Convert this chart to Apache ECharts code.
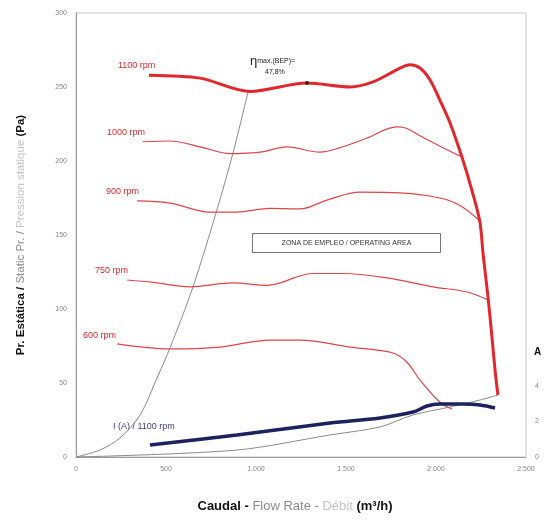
<!DOCTYPE html>
<html><head><meta charset="utf-8">
<script src="https://cdn.jsdelivr.net/npm/echarts@6/dist/echarts.min.js"></script>
<style>html,body{margin:0;padding:0;background:#fff}#c{width:548px;height:521px}</style>
</head><body><div id="c"></div>
<script>
// ---- data (flow m3/h, static pressure Pa) ----
var flow1100 = [405, 689, 967, 1283, 1522, 1650, 1800, 1856, 1911, 1967, 2022, 2078, 2144, 2200, 2244, 2261, 2289, 2311, 2328, 2344];
var pa1100   = [258, 256, 247, 252.7, 250, 253.4, 262.8, 265, 262.8, 254.7, 241, 225.7, 202.7, 180, 158.8, 137.8, 108, 81, 58.8, 41.9];
var flow1000 = [372, 522, 706, 856, 1022, 1172, 1356, 1467, 1617, 1783, 1839, 1911, 2022, 2144];
var pa1000   = [213, 213.5, 209, 205, 206, 209.5, 206, 209, 215.5, 223, 222, 217, 210, 202.7];
var flow900  = [339, 522, 744, 894, 1078, 1244, 1394, 1578, 1800, 2022, 2133, 2239];
var pa900    = [173, 171.6, 165.5, 165.5, 168, 167.6, 173.6, 179, 178.4, 175, 170, 160];
var flow750  = [283, 428, 633, 872, 1061, 1317, 1483, 1728, 1983, 2172, 2292];
var pa750    = [119.6, 118, 115, 117.6, 116, 124, 124, 121, 115, 111.5, 106];
var flow600  = [228, 522, 800, 1078, 1244, 1522, 1761, 1839, 1911, 2022, 2089];
var pa600    = [76.4, 73, 74.3, 79, 79, 74.3, 70.3, 64, 52, 37, 32.4];
var flowEff  = [0, 133, 244, 356, 450, 522, 650, 783, 872, 956];
var paEff    = [0, 4.7, 12.8, 28.4, 53.4, 73.6, 115, 167, 205.4, 246.6];
var flowSys  = [0, 894, 1411, 1689, 1872, 2078, 2244, 2344];
var paSys    = [0, 4.7, 14.9, 20.3, 28.4, 33.8, 38.5, 41.9];
var flowAmp  = [411, 894, 1411, 1689, 1872, 1950, 2022, 2150, 2244, 2328];
var amp1100  = [0.68, 1.24, 1.91, 2.2, 2.53, 2.87, 2.98, 2.98, 2.93, 2.76];
var bep      = [1283, 252.7];
var xTicks   = [0, 500, 1000, 1500, 2000, 2500];
var yTicks   = [0, 50, 100, 150, 200, 250, 300];
var ampTicks = [0, 2, 4];

function zip(a, b) { return a.map(function (v, i) { return [v, b[i]]; }); }

var chart = echarts.init(document.getElementById('c'), null, {renderer: 'canvas'});
var red = '#e3262b', redThin = '#e0454a', grey = '#8a8a8a', navy = '#1c2160';
var lbl = {fontFamily: 'Liberation Sans, Arial, sans-serif', fontSize: 7, color: '#888'};

chart.setOption({
  animation: false,
  backgroundColor: '#fff',
  grid: {left: 76, right: 22, top: 13, bottom: 64, show: true, borderColor: '#c8c8c8', borderWidth: 1},
  xAxis: {
    type: 'value', min: 0, max: 2500, interval: 500,
    axisLine: {show: true, lineStyle: {color: '#9a9a9a'}},
    axisTick: {show: false},
    splitLine: {show: false},
    axisLabel: Object.assign({margin: 9, formatter: function (v) {
      return xTicks.indexOf(v) < 0 ? '' : String(v).replace(/\B(?=(\d{3})+(?!\d))/g, '.');
    }}, lbl),
    name: '{b|Caudal - }{g|Flow Rate - }{l|Débit }{b|(m³/h)}',
    nameLocation: 'middle', nameGap: 43,
    nameTextStyle: {padding: [0, 12, 0, 0], rich: {
      b: {fontFamily: 'Liberation Sans, Arial', fontWeight: 'bold', fontSize: 13, color: '#111'},
      g: {fontFamily: 'Liberation Sans, Arial', fontSize: 13, color: '#8c8c8c'},
      l: {fontFamily: 'Liberation Sans, Arial', fontSize: 13, color: '#c4c4c4'}
    }}
  },
  yAxis: [{
    type: 'value', min: 0, max: 300, interval: 50,
    axisLine: {show: true, lineStyle: {color: '#9a9a9a'}},
    axisTick: {show: false},
    splitLine: {show: false},
    axisLabel: Object.assign({margin: 9, formatter: function (v) { return yTicks.indexOf(v) < 0 ? '' : v; }}, lbl),
    name: '{b|Pr. Estática / }{g|Static Pr. / }{l|Pression statique }{b|(Pa)}',
    nameLocation: 'middle', nameGap: 49, nameRotate: 90,
    nameTextStyle: {rich: {
      b: {fontFamily: 'Liberation Sans, Arial', fontWeight: 'bold', fontSize: 11.5, color: '#111'},
      g: {fontFamily: 'Liberation Sans, Arial', fontSize: 11.5, color: '#8c8c8c'},
      l: {fontFamily: 'Liberation Sans, Arial', fontSize: 11.5, color: '#c4c4c4'}
    }}
  }, {
    type: 'value', min: 0, max: 25, interval: 2, position: 'right',
    axisLine: {show: false}, axisTick: {show: false}, splitLine: {show: false},
    axisLabel: Object.assign({margin: 9, formatter: function (v) { return ampTicks.indexOf(v) < 0 ? '' : v; }}, lbl)
  }],
  series: [
    {type: 'line', data: zip(flowEff, paEff), smooth: 0.3, symbol: 'none', lineStyle: {color: grey, width: 1}, z: 1},
    {type: 'line', data: zip(flowSys, paSys), smooth: 0.3, symbol: 'none', lineStyle: {color: grey, width: 1}, z: 1},
    {type: 'line', data: zip(flow1000, pa1000), smooth: 0.35, symbol: 'none', lineStyle: {color: redThin, width: 1.2}, z: 2},
    {type: 'line', data: zip(flow900, pa900), smooth: 0.35, symbol: 'none', lineStyle: {color: redThin, width: 1.2}, z: 2},
    {type: 'line', data: zip(flow750, pa750), smooth: 0.35, symbol: 'none', lineStyle: {color: redThin, width: 1.2}, z: 2},
    {type: 'line', data: zip(flow600, pa600), smooth: 0.35, symbol: 'none', lineStyle: {color: redThin, width: 1.2}, z: 2},
    {type: 'line', yAxisIndex: 1, data: zip(flowAmp, amp1100), smooth: 0.35, symbol: 'none', lineStyle: {color: navy, width: 3.5}, z: 3},
    {type: 'line', data: zip(flow1100, pa1100), smooth: 0.3, symbol: 'none', lineStyle: {color: red, width: 3}, z: 4},
    {type: 'scatter', data: [bep], symbol: 'circle', symbolSize: 4, itemStyle: {color: '#111'}, z: 5}
  ],
  graphic: [
    {type: 'text', left: 118, top: 61, style: {text: '1100 rpm', fill: '#d8282c', font: '9px Liberation Sans, Arial'}},
    {type: 'text', left: 107, top: 128, style: {text: '1000 rpm', fill: '#d8282c', font: '9px Liberation Sans, Arial'}},
    {type: 'text', left: 106, top: 187, style: {text: '900 rpm', fill: '#d8282c', font: '9px Liberation Sans, Arial'}},
    {type: 'text', left: 95, top: 266, style: {text: '750 rpm', fill: '#d8282c', font: '9px Liberation Sans, Arial'}},
    {type: 'text', left: 83, top: 331, style: {text: '600 rpm', fill: '#d8282c', font: '9px Liberation Sans, Arial'}},
    {type: 'text', left: 113, top: 422, style: {text: 'I (A) / 1100 rpm', fill: '#3a3f7a', font: '9px Liberation Sans, Arial'}},
    {type: 'text', left: 250, top: 55, style: {rich: {e: {fontSize: 13, fill: '#222'}, s: {fontSize: 7, fill: '#222'}}, text: '{e|η}{s|max.(BEP)=}', font: '7px Liberation Sans, Arial', fill: '#222'}},
    {type: 'text', left: 265, top: 69, style: {text: '47,8%', fill: '#222', font: '7px Liberation Sans, Arial'}},
    {type: 'group', left: 252, top: 233, children: [
      {type: 'rect', shape: {x: 0, y: 0, width: 188, height: 19}, style: {fill: '#fff', stroke: '#777', lineWidth: 1}},
      {type: 'text', x: 94, y: 10, style: {text: 'ZONA DE EMPLEO / OPERATING AREA', fill: '#333', font: '7px Liberation Sans, Arial', textAlign: 'center', textVerticalAlign: 'middle'}}
    ]},
    {type: 'text', left: 534, top: 347, style: {text: 'A', fill: '#111', font: 'bold 10px Liberation Sans, Arial'}}
  ]
});
</script>
</body></html>
